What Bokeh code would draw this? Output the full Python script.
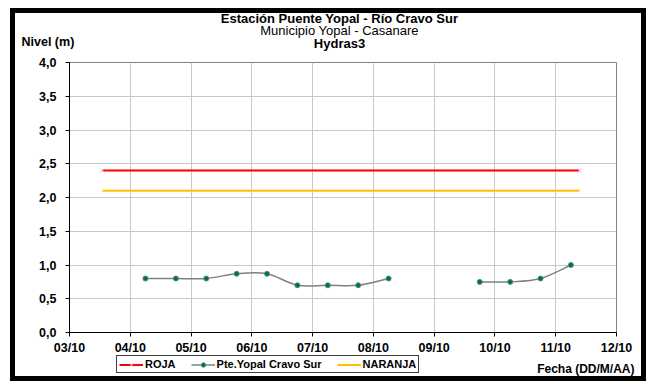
import numpy as np
import pandas as pd
from bokeh.plotting import figure
from bokeh.models import (Range1d, FixedTicker, DatetimeTickFormatter, Label,
                          Legend, LegendItem, ColumnDataSource)
from bokeh.embed import file_html
from bokeh.resources import INLINE

# ---------------- data ----------------
serie_fechas = ["2010-10-04 06:00", "2010-10-04 18:00", "2010-10-05 06:00",
                "2010-10-05 18:00", "2010-10-06 06:00", "2010-10-06 18:00",
                "2010-10-07 06:00", "2010-10-07 18:00", "2010-10-08 06:00",
                "2010-10-08 18:00", "2010-10-09 06:00",
                "2010-10-09 18:00", "2010-10-10 06:00", "2010-10-10 18:00",
                "2010-10-11 06:00"]
serie_nivel = [0.80, 0.80, 0.80, 0.87, 0.87, 0.70, 0.70, 0.70, 0.80,
               np.nan, np.nan,
               0.75, 0.75, 0.80, 1.00]

roja_fechas = ["2010-10-03 13:00", "2010-10-11 09:20"]
roja_nivel = [2.4, 2.4]
naranja_fechas = ["2010-10-03 13:00", "2010-10-11 09:20"]
naranja_nivel = [2.1, 2.1]

x_tick_fechas = ["2010-10-03", "2010-10-04", "2010-10-05", "2010-10-06",
                 "2010-10-07", "2010-10-08", "2010-10-09", "2010-10-10",
                 "2010-10-11", "2010-10-12"]
y_ticks = [0.0, 0.5, 1.0, 1.5, 2.0, 2.5, 3.0, 3.5, 4.0]
y_tick_labels = ["0,0", "0,5", "1,0", "1,5", "2,0", "2,5", "3,0", "3,5", "4,0"]

titulo1 = "Estación Puente Yopal - Río Cravo Sur"
titulo2 = "Municipio Yopal - Casanare"
titulo3 = "Hydras3"
y_titulo = "Nivel (m)"
x_titulo = "Fecha (DD/M/AA)"
leyenda = ["ROJA", "Pte.Yopal Cravo Sur", "NARANJA"]

# ---------------- styles ----------------
FONT = "Liberation Sans"
W, H = 648, 384
BL, BR, BT, BB = 69, 32, 62, 52          # borders around the plot area (px)
C_ROJA, C_NAR, C_SERIE = "#ff0000", "#ffc000", "#808080"

def ms(s):
    return pd.Timestamp(s).value / 1e6

sx = np.array([ms(s) for s in serie_fechas])
sy = np.array(serie_nivel, dtype=float)
xt = [ms(s) for s in x_tick_fechas]
rx = [ms(s) for s in roja_fechas]
nx = [ms(s) for s in naranja_fechas]
valid = ~np.isnan(sy)

# ---------------- main chart ----------------
p = figure(width=W, height=H, x_axis_type="datetime",
           x_range=Range1d(xt[0], xt[-1]), y_range=Range1d(0, 4),
           output_backend="svg", toolbar_location=None,
           min_border_left=BL, min_border_right=BR,
           min_border_top=BT, min_border_bottom=BB)
p.background_fill_color = "white"
p.border_fill_color = None
p.outline_line_color = "#808080"
p.outline_line_width = 1
p.styles = {"background-color": "white",
            "box-shadow": ("inset 10px 8px 0 0 #ffffff, inset -2px -3px 0 0 #ffffff, "
                           "inset 15px 13px 0 0 #000000, inset -7px -8px 0 0 #000000")}

for g in (p.xgrid, p.ygrid):
    g.grid_line_color = "#c8c8c8"
    g.grid_line_width = 1
p.xgrid.ticker = FixedTicker(ticks=xt)
p.ygrid.ticker = FixedTicker(ticks=y_ticks)

p.xaxis.ticker = FixedTicker(ticks=xt)
p.xaxis.formatter = DatetimeTickFormatter(days="%d/%m", months="%d/%m", hours="%d/%m")
p.yaxis.ticker = FixedTicker(ticks=y_ticks)
p.yaxis.major_label_overrides = {v: l for v, l in zip(y_ticks, y_tick_labels)}
for ax in (p.xaxis, p.yaxis):
    ax.axis_line_color = "black"
    ax.axis_line_width = 1
    ax.major_tick_line_color = "black"
    ax.major_tick_in = 0
    ax.major_tick_out = 4
    ax.minor_tick_line_color = None
    ax.major_label_text_font = FONT
    ax.major_label_text_font_style = "bold"
    ax.major_label_text_font_size = "12.5px"
    ax.major_label_text_color = "black"
p.xaxis.major_label_standoff = 4
p.yaxis.major_label_standoff = 9

p.line(x=rx, y=roja_nivel, color=C_ROJA, line_width=2)
p.scatter(x=rx, y=roja_nivel, marker="x", size=6, line_color="#f0b8d8", line_width=1)
p.line(x=nx, y=naranja_nivel, color=C_NAR, line_width=2)

# smoothed series (Excel-like smoothing) drawn as bezier segments between the data points
x0, y0, x1, y1, cx0, cy0, cx1, cy1 = ([] for _ in range(8))
n = len(sx)
for i in range(n - 1):
    if not (valid[i] and valid[i + 1]):
        continue
    pxm = sx[i - 1] if i > 0 and valid[i - 1] else sx[i]
    pym = sy[i - 1] if i > 0 and valid[i - 1] else sy[i]
    pxp = sx[i + 2] if i + 2 < n and valid[i + 2] else sx[i + 1]
    pyp = sy[i + 2] if i + 2 < n and valid[i + 2] else sy[i + 1]
    x0.append(sx[i]); y0.append(sy[i]); x1.append(sx[i + 1]); y1.append(sy[i + 1])
    cx0.append(sx[i] + (sx[i + 1] - pxm) / 6); cy0.append(sy[i] + (sy[i + 1] - pym) / 6)
    cx1.append(sx[i + 1] - (pxp - sx[i]) / 6); cy1.append(sy[i + 1] - (pyp - sy[i]) / 6)
src_b = ColumnDataSource(dict(x0=x0, y0=y0, x1=x1, y1=y1, cx0=cx0, cy0=cy0, cx1=cx1, cy1=cy1))
p.bezier(x0="x0", y0="y0", x1="x1", y1="y1", cx0="cx0", cy0="cy0",
         cx1="cx1", cy1="cy1", source=src_b, line_color=C_SERIE, line_width=1.5)
p.scatter(x=sx[valid], y=sy[valid], marker="circle", size=5,
          fill_color="#008000", line_color="#4f81bd", line_width=1)

# ---------------- text / legend layer (pixel coordinates over the whole canvas) ----------------
ov = figure(width=W, height=H, x_range=Range1d(0, W), y_range=Range1d(0, H),
            output_backend="svg", toolbar_location=None,
            x_axis_location=None, y_axis_location=None,
            min_border_left=0, min_border_right=0,
            min_border_top=0, min_border_bottom=0)
ov.background_fill_color = None
ov.border_fill_color = None
ov.outline_line_color = None
ov.xgrid.visible = False
ov.ygrid.visible = False
ov.styles = {"position": "absolute", "top": "0px", "left": "0px"}

def lab(text, x, y_top, bold=True, align="center", size="13px"):
    ov.add_layout(Label(x=x, y=H - y_top, text=text, text_font=FONT,
                        text_font_style="bold" if bold else "normal",
                        text_font_size=size, text_align=align, text_baseline="middle",
                        text_color="black"))

lab(titulo1, 339, 18)
lab(titulo2, 339, 30, bold=False)
lab(titulo3, 339, 43)
lab(y_titulo, 21, 41, align="left", size="12.5px")
lab(x_titulo, 634, 368, align="right", size="12px")

# legend glyph carriers: the same series, which fall outside this layer's pixel ranges
lg_roja = ov.line(x=rx, y=roja_nivel, color=C_ROJA, line_width=2)
lg_roja_x = ov.scatter(x=rx, y=roja_nivel, marker="x", size=6, line_color="#f0b8d8", line_width=1)
lg_serie = ov.line(x=sx[valid], y=sy[valid], color=C_SERIE, line_width=1.5)
lg_serie_p = ov.scatter(x=sx[valid], y=sy[valid], marker="circle", size=5,
                        fill_color="#008000", line_color="#4f81bd", line_width=1)
lg_nar = ov.line(x=nx, y=naranja_nivel, color=C_NAR, line_width=2)

legend = Legend(items=[LegendItem(label=leyenda[0], renderers=[lg_roja, lg_roja_x]),
                       LegendItem(label=leyenda[1], renderers=[lg_serie, lg_serie_p]),
                       LegendItem(label=leyenda[2], renderers=[lg_nar])],
                orientation="horizontal", location=(116, H - 373))
legend.label_text_font = FONT
legend.label_text_font_style = "bold"
legend.label_text_font_size = "11px"
legend.label_text_color = "black"
legend.label_height = 11
legend.glyph_height = 11
legend.glyph_width = 24
legend.label_standoff = 2
legend.spacing = 15
legend.padding = 2
legend.margin = 0
legend.border_line_color = "#404040"
legend.border_line_width = 1
legend.border_line_alpha = 1
legend.background_fill_color = "white"
legend.background_fill_alpha = 1
ov.add_layout(legend, "center")

open("out.html", "w").write(file_html([p, ov], INLINE))
